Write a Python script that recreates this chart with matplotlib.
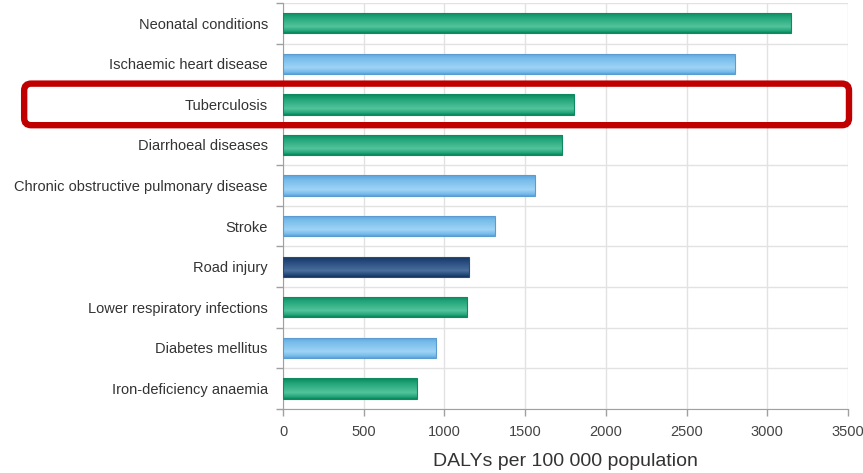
import matplotlib.pyplot as plt
import numpy as np
from matplotlib.colors import LinearSegmentedColormap
from matplotlib.patches import FancyBboxPatch
from matplotlib.transforms import IdentityTransform

plt.rcParams['font.family'] = ['Liberation Sans', 'DejaVu Sans']

causes = ["Neonatal conditions", "Ischaemic heart disease", "Tuberculosis",
          "Diarrhoeal diseases", "Chronic obstructive pulmonary disease",
          "Stroke", "Road injury", "Lower respiratory infections",
          "Diabetes mellitus", "Iron-deficiency anaemia"]
dalys = [3150, 2800, 1800, 1730, 1560, 1310, 1150, 1140, 950, 830]
groups = ["comm", "ncd", "comm", "comm", "ncd", "ncd", "inj", "comm", "ncd", "comm"]
highlight = "Tuberculosis"

# (light, base, dark, edge) for each cause group
palette = {
    "comm": ("#52c49c", "#23a57a", "#07875c", "#0f8a60"),
    "ncd": ("#9ed3f5", "#79bdeb", "#5aa3dc", "#5b9bd0"),
    "inj": ("#4a6f9e", "#24497a", "#143561", "#2a4a78"),
}

fig = plt.figure(figsize=(8.63, 4.73), dpi=100)
ax = fig.add_axes([0.328, 0.136, 0.6546, 0.8577])

y = np.arange(len(causes))
bars = ax.barh(y, dalys, height=0.5, color="none", zorder=3)
for bar, g in zip(bars, groups):
    light, base, dark, edge = palette[g]
    cmap = LinearSegmentedColormap.from_list(
        "g", [(0, dark), (0.25, base), (0.7, light), (0.9, base), (1, dark)])
    grad = np.linspace(0, 1, 64).reshape(-1, 1)
    x0, y0 = bar.get_x(), bar.get_y()
    w, h = bar.get_width(), bar.get_height()
    im = ax.imshow(grad, cmap=cmap, aspect="auto", origin="lower",
                   extent=[x0, x0 + w, y0, y0 + h], zorder=3)
    im.set_clip_path(bar)
    bar.set_edgecolor(edge)
    bar.set_linewidth(0.8)
    bar.set_zorder(4)

ax.set_xlim(0, 3500)
ax.set_ylim(len(causes) - 0.5, -0.5)
ax.set_xticks(np.arange(0, 3501, 500))
ax.set_yticks(y)
ax.set_yticklabels(causes)
ax.set_yticks(np.arange(-0.5, len(causes), 1), minor=True)

ax.tick_params(axis="y", which="major", length=0, pad=11, labelsize=10.5,
               labelcolor="#333333")
ax.tick_params(axis="y", which="minor", length=5, color="#a0a0a0", width=1)
ax.tick_params(axis="x", length=5, color="#a0a0a0", width=1, labelsize=10.5,
               labelcolor="#444444", pad=7)

ax.grid(axis="x", color="#e2e2e2", linewidth=1, zorder=0)
ax.grid(axis="y", which="minor", color="#e2e2e2", linewidth=1, zorder=0)
for side in ("top", "right"):
    ax.spines[side].set_visible(False)
for side in ("left", "bottom"):
    ax.spines[side].set_color("#a0a0a0")

ax.set_xlabel("DALYs per 100 000 population", fontsize=14, color="#333333",
              labelpad=10)

# red frame around the highlighted row, spanning labels and plot area
fig.canvas.draw()
i = causes.index(highlight)
top_px = ax.transData.transform((0, i - 0.5))[1]
bot_px = ax.transData.transform((0, i + 0.5))[1]
x_left = 0.028 * fig.bbox.width
x_right = ax.transAxes.transform((1, 0))[0] + 1
frame = FancyBboxPatch((x_left, bot_px - 0.5), x_right - x_left, top_px - bot_px + 1,
                       boxstyle="round,pad=0,rounding_size=7",
                       transform=IdentityTransform(), fill=False,
                       edgecolor="#c00000", linewidth=4.6, zorder=10)
fig.add_artist(frame)

fig.savefig("out.png", dpi=100)
